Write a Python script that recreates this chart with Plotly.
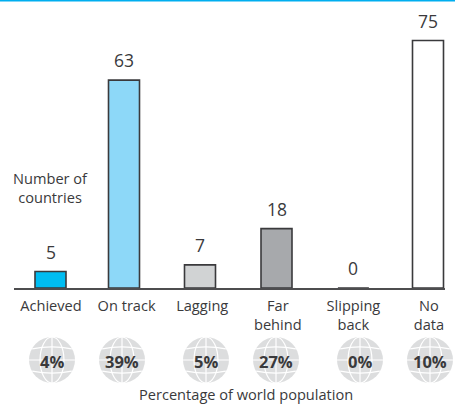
import plotly.graph_objects as go

categories = ["Achieved", "On track", "Lagging", "Far<br>behind", "Slipping<br>back", "No<br>data"]
countries = [5, 63, 7, 18, 0, 75]
bar_colors = ["#00bdf2", "#8dd8f8", "#d1d3d4", "#a7a9ac", "#ffffff", "#ffffff"]
population_share = ["4%", "39%", "5%", "27%", "0%", "10%"]
globe_px = [52, 122, 206, 276, 360, 430]
bar_nudge_px = [-0.5, -2.6, -2.2, -1.3, 0, -1]

W, H = 455, 404
BASE = 288
PXU = 3.3
FONT = "Open Sans"
TXT = "#3a3a3c"
STEP = 75.6
X0 = 51
BW = 31

def px(x): return x / W
def py(y): return 1 - y / H

idx = list(range(len(categories)))
fig = go.Figure(go.Bar(
    x=idx, y=countries, width=BW / STEP,
    offset=[(n - BW / 2) / STEP for n in bar_nudge_px],
    marker=dict(color=bar_colors, line=dict(color="#3a3a3c", width=1.6)),
    cliponaxis=False, hoverinfo="skip",
))

annotations = []
for i, v, n in zip(idx, countries, bar_nudge_px):
    annotations.append(dict(x=i, y=v, xref="x", yref="y", text=str(v), showarrow=False,
                            yanchor="bottom", yshift=6, xshift=n, font=dict(size=17.5, family=FONT, color=TXT)))

shapes = [dict(type="rect", xref="paper", yref="paper", x0=0, x1=1, y0=py(1.5), y1=1,
               fillcolor="#00aeef", line_width=0)]
R = 23
CY = 360
white = dict(color="white", width=1.2)
for gx, label in zip(globe_px, population_share):
    shapes.append(dict(type="circle", xref="paper", yref="paper", x0=px(gx - R), x1=px(gx + R),
                       y0=py(CY + R), y1=py(CY - R), fillcolor="#dcddde", line_width=0, layer="below"))
    shapes.append(dict(type="circle", xref="paper", yref="paper", x0=px(gx - R * 0.52), x1=px(gx + R * 0.52),
                       y0=py(CY + R), y1=py(CY - R), line=white, layer="below"))
    shapes.append(dict(type="line", xref="paper", yref="paper", x0=px(gx), x1=px(gx),
                       y0=py(CY + R), y1=py(CY - R), line=white, layer="below"))
    shapes.append(dict(type="line", xref="paper", yref="paper", x0=px(gx - R), x1=px(gx + R),
                       y0=py(CY), y1=py(CY), line=white, layer="below"))
    for s in (-1, 1):
        yy = CY + s * R * 0.48
        xx = R * 0.86
        path = f"M {px(gx - xx)} {py(yy)} Q {px(gx)} {py(yy + s * 4)} {px(gx + xx)} {py(yy)}"
        shapes.append(dict(type="path", xref="paper", yref="paper", path=path, line=white, layer="below"))
    annotations.append(dict(x=px(gx), y=py(CY + 1), xref="paper", yref="paper", text=f"<b>{label}</b>",
                            xanchor="center", yanchor="middle",
                            showarrow=False, font=dict(size=16.5, family=FONT, color=TXT)))

annotations.append(dict(x=px(50), y=py(187), xref="paper", yref="paper", text="Number of<br>countries",
                        xanchor="center", yanchor="middle",
                        showarrow=False, font=dict(size=14.6, family=FONT, color=TXT)))
annotations.append(dict(x=px(246), y=0, xref="paper", yref="paper", text="Percentage of world population",
                        xanchor="center", yanchor="bottom", yshift=-2,
                        showarrow=False, font=dict(size=14.6, family=FONT, color=TXT)))

fig.update_layout(
    width=W, height=H, margin=dict(l=0, r=0, t=0, b=0, pad=0), showlegend=False,
    paper_bgcolor="white", plot_bgcolor="white", shapes=shapes, annotations=annotations,
    xaxis=dict(domain=[px(14), px(445)], range=[(14 - X0) / STEP, (445 - X0) / STEP],
               tickvals=idx, ticktext=categories, ticks="", showgrid=False, zeroline=False,
               showline=True, linecolor="#4d4d4f", linewidth=1.5, ticklabelstandoff=4,
               tickfont=dict(size=14.6, family=FONT, color=TXT)),
    yaxis=dict(domain=[(H - BASE) / H, 1], range=[0, BASE / PXU], visible=False, fixedrange=True),
)
fig.write_html("out.html", config={"displayModeBar": False},
               post_script="document.body.style.margin='0';document.documentElement.style.overflow='hidden';")
